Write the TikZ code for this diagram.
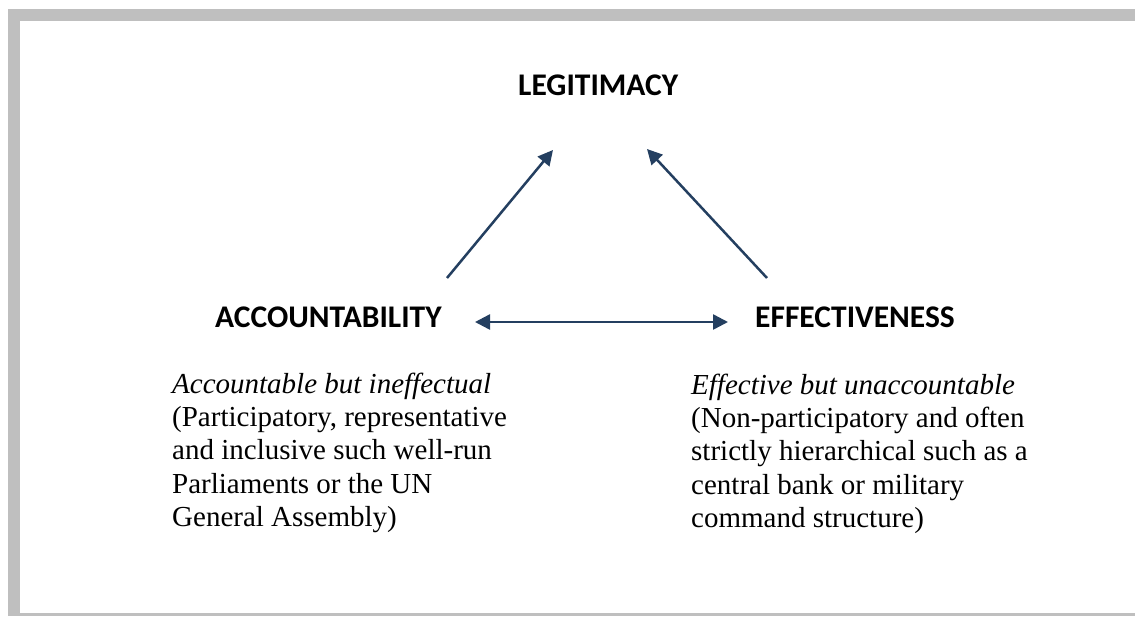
\documentclass[tikz,border=0pt]{standalone}
\usepackage{fontspec}
\setmainfont{Liberation Serif}
\newfontfamily\headfont{Carlito}
\usetikzlibrary{arrows.meta}
\definecolor{framegray}{RGB}{191,191,191}
\definecolor{navy}{RGB}{36,63,96}
\tikzset{
  heading/.style={anchor=base west,inner sep=0pt,font=\headfont\bfseries\fontsize{31.5}{38}\selectfont},
  bodytext/.style={anchor=base west,inner sep=0pt,font=\fontsize{29}{33.4}\selectfont},
  link/.style={draw=navy,line width=2.5pt,-{Triangle[length=15pt,width=15pt]}},
  dlink/.style={draw=navy,line width=2.5pt,{Triangle[length=15pt,width=15pt]}-{Triangle[length=15pt,width=15pt]}}
}
\begin{document}
\begin{tikzpicture}[x=1pt,y=-1pt]
\useasboundingbox (0,0) rectangle (1135,616);
\fill[white] (0,0) rectangle (1135,616);
\fill[framegray] (8,9) rectangle (1135,21);
\fill[framegray] (8,9) rectangle (20,616);
\fill[framegray] (8,613) rectangle (1135,616);

\node[heading] (leg) at (518,95) {LEGITIMACY};
\node[heading] (acc) at (215,327) {ACCOUNTABILITY};
\node[heading] (eff) at (755,327) {EFFECTIVENESS};

\coordinate (accl) at (447,278);
\coordinate (legl) at (553,150);
\coordinate (effr) at (767,278);
\coordinate (legr) at (647,149);
\coordinate (dl) at (475,322);
\coordinate (dr) at (728,322);

\draw[link] (accl) -- (legl);
\draw[link] (effr) -- (legr);
\draw[dlink] (dl) -- (dr);

\node[bodytext] (acctext) at (172,393) {\parbox[t]{420pt}{\fontsize{29}{33.4}\selectfont
\textit{Accountable but ineffectual}\\
(Participatory, representative\\
and inclusive such well-run\\
Parliaments or the UN\\
General Assembly)}};
\node[bodytext] (efftext) at (691,394) {\parbox[t]{440pt}{\fontsize{29}{33.4}\selectfont
\textit{Effective but unaccountable}\\
(Non-participatory and often\\
strictly hierarchical such as a\\
central bank or military\\
command structure)}};
\end{tikzpicture}
\end{document}
